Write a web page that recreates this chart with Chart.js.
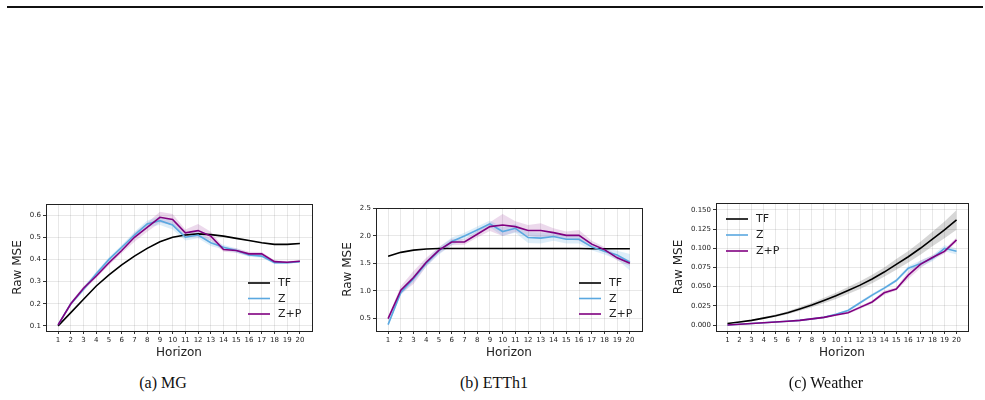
<!DOCTYPE html>
<html>
<head>
<meta charset="utf-8">
<script src="https://cdn.jsdelivr.net/npm/chart.js@4.4.1/dist/chart.umd.min.js"></script>
<style>
  body { margin: 0; background: #fff; width: 985px; height: 400px; position: relative; overflow: hidden; }
  .rule { position: absolute; left: 7px; top: 6px; width: 976px; height: 2px; background: #111; }
  .box { position: absolute; top: 195px; width: 330px; height: 170px; }
  .cap { position: absolute; top: 374px; font-family: 'Liberation Serif'; font-size: 16px; color: #111;
         transform: translateX(-50%); white-space: nowrap; }
</style>
</head>
<body>
<div class="rule"></div>
<div class="box" style="left:0px"><canvas id="mgChart" width="330" height="170"></canvas></div>
<div class="box" style="left:330px"><canvas id="ettChart" width="330" height="170"></canvas></div>
<div class="box" style="left:655px"><canvas id="wChart" width="330" height="170"></canvas></div>
<div class="cap" style="left:163px">(a) MG</div>
<div class="cap" style="left:494px">(b) ETTh1</div>
<div class="cap" style="left:826px">(c) Weather</div>

<script>
const horizon = [1, 2, 3, 4, 5, 6, 7, 8, 9, 10, 11, 12, 13, 14, 15, 16, 17, 18, 19, 20];

// (a) MG
const mgTF = [0.10, 0.16, 0.22, 0.28, 0.33, 0.375, 0.415, 0.45, 0.48, 0.50, 0.51, 0.515, 0.512, 0.505, 0.495, 0.485, 0.475, 0.468, 0.468, 0.472];
const mgZ = [0.105, 0.20, 0.265, 0.335, 0.40, 0.455, 0.51, 0.56, 0.575, 0.555, 0.50, 0.51, 0.475, 0.455, 0.44, 0.42, 0.415, 0.385, 0.385, 0.39];
const mgZP = [0.105, 0.20, 0.27, 0.325, 0.385, 0.44, 0.50, 0.545, 0.59, 0.58, 0.52, 0.53, 0.505, 0.445, 0.44, 0.425, 0.425, 0.39, 0.387, 0.392];
const mgTFsd = [0.002, 0.002, 0.002, 0.002, 0.002, 0.002, 0.002, 0.002, 0.002, 0.002, 0.002, 0.002, 0.002, 0.002, 0.002, 0.002, 0.002, 0.002, 0.002, 0.002];
const mgZsd = [0.005, 0.008, 0.01, 0.01, 0.01, 0.01, 0.015, 0.015, 0.02, 0.02, 0.015, 0.015, 0.015, 0.01, 0.01, 0.008, 0.008, 0.006, 0.005, 0.005];
const mgZPsd = [0.005, 0.008, 0.01, 0.01, 0.01, 0.012, 0.02, 0.02, 0.025, 0.025, 0.015, 0.03, 0.02, 0.01, 0.01, 0.01, 0.008, 0.006, 0.005, 0.005];
const mgTicks = [0.1, 0.2, 0.3, 0.4, 0.5, 0.6];

// (b) ETTh1
const ettTF = [1.63, 1.70, 1.74, 1.76, 1.77, 1.77, 1.77, 1.77, 1.77, 1.77, 1.77, 1.77, 1.77, 1.77, 1.77, 1.77, 1.765, 1.765, 1.765, 1.765];
const ettZ = [0.38, 0.97, 1.22, 1.50, 1.73, 1.90, 2.00, 2.11, 2.22, 2.08, 2.14, 1.97, 1.96, 1.99, 1.94, 1.94, 1.80, 1.72, 1.65, 1.52];
const ettZP = [0.49, 1.01, 1.24, 1.52, 1.74, 1.89, 1.89, 2.03, 2.17, 2.20, 2.17, 2.10, 2.10, 2.06, 2.01, 2.01, 1.85, 1.75, 1.60, 1.50];
const ettTFsd = [0.005, 0.005, 0.005, 0.005, 0.005, 0.005, 0.005, 0.005, 0.005, 0.005, 0.005, 0.005, 0.005, 0.005, 0.005, 0.005, 0.005, 0.005, 0.005, 0.005];
const ettZsd = [0.03, 0.05, 0.06, 0.06, 0.07, 0.07, 0.06, 0.06, 0.06, 0.08, 0.08, 0.1, 0.1, 0.08, 0.08, 0.08, 0.06, 0.06, 0.08, 0.15];
const ettZPsd = [0.04, 0.07, 0.12, 0.08, 0.06, 0.06, 0.05, 0.06, 0.08, 0.2, 0.1, 0.1, 0.13, 0.08, 0.07, 0.1, 0.06, 0.05, 0.05, 0.05];
const ettTicks = [0.5, 1.0, 1.5, 2.0, 2.5];

// (c) Weather
const wTF = [0.002, 0.004, 0.006, 0.009, 0.012, 0.016, 0.021, 0.026, 0.032, 0.038, 0.045, 0.052, 0.060, 0.069, 0.079, 0.089, 0.100, 0.112, 0.124, 0.137];
const wZ = [0.000, 0.001, 0.002, 0.003, 0.004, 0.005, 0.006, 0.008, 0.010, 0.014, 0.019, 0.029, 0.039, 0.048, 0.058, 0.074, 0.080, 0.087, 0.100, 0.096];
const wZP = [0.000, 0.001, 0.002, 0.003, 0.004, 0.005, 0.006, 0.008, 0.010, 0.013, 0.016, 0.023, 0.030, 0.042, 0.047, 0.065, 0.079, 0.088, 0.096, 0.111];
const wTFsd = [0.0005, 0.0007, 0.001, 0.0013, 0.0017, 0.002, 0.0025, 0.003, 0.0035, 0.004, 0.0045, 0.005, 0.0055, 0.006, 0.007, 0.0075, 0.0085, 0.0095, 0.011, 0.013];
const wZsd = [0.0003, 0.0003, 0.0004, 0.0005, 0.0005, 0.0006, 0.0007, 0.0008, 0.001, 0.001, 0.0015, 0.002, 0.002, 0.002, 0.002, 0.003, 0.004, 0.004, 0.004, 0.004];
const wZPsd = [0.0003, 0.0003, 0.0004, 0.0005, 0.0005, 0.0006, 0.0007, 0.0008, 0.001, 0.001, 0.0015, 0.002, 0.002, 0.003, 0.002, 0.005, 0.005, 0.003, 0.003, 0.003];
const wTicks = [0.000, 0.025, 0.050, 0.075, 0.100, 0.125, 0.150];

const labels = ["TF", "Z", "Z+P"];
const lineColors = ["#000000", "#5aa8e0", "#800080"];
const bandColors = ["rgba(0,0,0,0.16)", "rgba(90,168,224,0.2)", "rgba(128,0,128,0.15)"];

Chart.defaults.font.family = "'DejaVu Sans'";
Chart.defaults.color = "#222";

function band(vals, sd, sign) {
  return horizon.map((h, i) => ({ x: h, y: vals[i] + sign * sd[i] }));
}

function buildDatasets(series, sds) {
  let ds = [];
  series.forEach((vals, k) => {
    ds.push({ data: band(vals, sds[k], -1), borderWidth: 0, pointRadius: 0, fill: false, order: 10 });
    ds.push({ data: band(vals, sds[k], 1), borderWidth: 0, pointRadius: 0, fill: '-1', backgroundColor: bandColors[k], order: 10 });
  });
  series.forEach((vals, k) => {
    ds.push({
      label: labels[k], legend: true,
      data: horizon.map((h, i) => ({ x: h, y: vals[i] })),
      borderColor: lineColors[k], borderWidth: 1.6, pointRadius: 0, fill: false, order: 3 - k,
    });
  });
  return ds;
}

// legend drawn inside the plot, matplotlib style
const innerLegend = {
  id: 'innerLegend',
  afterDraw(chart, args, opts) {
    const ctx = chart.ctx;
    ctx.save();
    ctx.font = "11px 'DejaVu Sans'";
    ctx.textBaseline = 'middle';
    chart.data.datasets.filter(d => d.legend).forEach((d, i) => {
      const y = opts.y + i * opts.gap;
      ctx.strokeStyle = d.borderColor;
      ctx.lineWidth = 1.6;
      ctx.beginPath();
      ctx.moveTo(opts.x, y);
      ctx.lineTo(opts.x + 22, y);
      ctx.stroke();
      ctx.fillStyle = '#222';
      ctx.fillText(d.label, opts.x + 30, y + 0.5);
    });
    ctx.restore();
  }
};

const frame = {
  id: 'frame',
  afterDatasetsDraw(chart) {
    const a = chart.chartArea, ctx = chart.ctx;
    ctx.save();
    ctx.strokeStyle = '#222';
    ctx.lineWidth = 1;
    ctx.strokeRect(Math.round(a.left) + 0.5, Math.round(a.top) + 0.5, Math.round(a.right - a.left), Math.round(a.bottom - a.top));
    ctx.restore();
  }
};

function makeChart(id, series, sds, yMin, yMax, yTicks, decimals, yWidth, yTitlePad, pad, legendPos) {
  const ctx = document.getElementById(id).getContext('2d');
  return new Chart(ctx, {
    type: 'line',
    data: { datasets: buildDatasets(series, sds) },
    plugins: [innerLegend, frame],
    options: {
      responsive: false,
      animation: false,
      layout: { padding: pad },
      plugins: {
        legend: { display: false },
        tooltip: { enabled: false },
        innerLegend: legendPos,
      },
      scales: {
        x: {
          type: 'linear', min: 0.05, max: 20.95,
          afterBuildTicks: s => { s.ticks = horizon.map(v => ({ value: v })); },
          afterFit: s => { s.height = 34; },
          ticks: { font: { size: 7 }, padding: 2, autoSkip: false, maxRotation: 0, callback: v => v },
          grid: { color: 'rgba(0,0,0,0.09)', tickColor: '#333', tickLength: 3 },
          border: { display: false },
          title: { display: true, text: 'Horizon', font: { size: 12 }, padding: 5 },
        },
        y: {
          min: yMin, max: yMax,
          afterBuildTicks: s => { s.ticks = yTicks.map(v => ({ value: v })); },
          afterFit: s => { s.width = yWidth; },
          ticks: { font: { size: 7 }, padding: 2, callback: v => Number(v).toFixed(decimals) },
          grid: { color: 'rgba(0,0,0,0.09)', tickColor: '#333', tickLength: 3 },
          border: { display: false },
          title: { display: true, text: 'Raw MSE', font: { size: 12 }, padding: yTitlePad },
        }
      }
    }
  });
}

makeChart('mgChart', [mgTF, mgZ, mgZP], [mgTFsd, mgZsd, mgZPsd], 0.077, 0.65, mgTicks, 1, 46, 11,
  { top: 9, right: 18, bottom: 0, left: 0 }, { x: 248, y: 88, gap: 15.5 });
makeChart('ettChart', [ettTF, ettZ, ettZP], [ettTFsd, ettZsd, ettZPsd], 0.264, 2.51, ettTicks, 1, 46, 11,
  { top: 13, right: 18, bottom: 0, left: 0 }, { x: 249, y: 88, gap: 15.5 });
makeChart('wChart', [wTF, wZ, wZP], [wTFsd, wZsd, wZPsd], -0.0078, 0.159, wTicks, 3, 61, 17,
  { top: 8, right: 17, bottom: 0, left: 0 }, { x: 71, y: 24, gap: 16 });
</script>
</body>
</html>
